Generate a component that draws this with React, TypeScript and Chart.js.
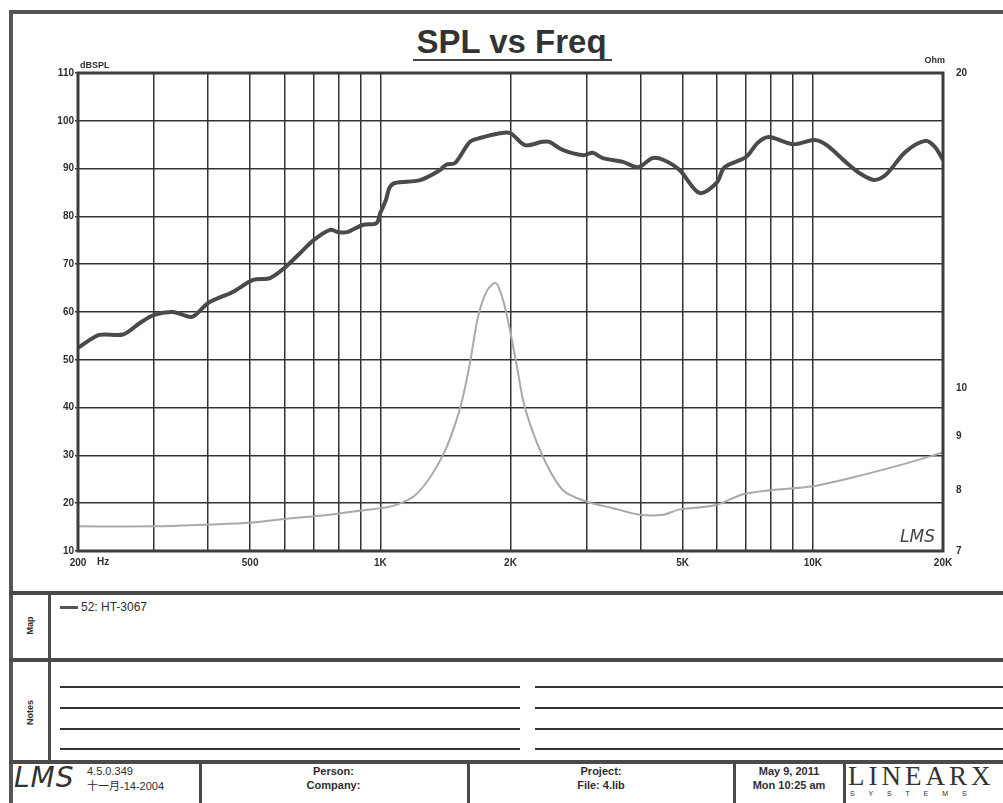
import React, { useEffect, useRef } from 'react';
import { Chart, registerables } from 'chart.js';

Chart.register(...registerables);

// SPL curve (Hz, dBSPL)
const splFreq = [200, 224, 254, 278, 300, 332, 367, 400, 456, 508, 556, 600, 652, 700, 765, 800, 838, 910, 980, 1000, 1030, 1050, 1081, 1236, 1374, 1420, 1490, 1611, 1700, 1890, 2000, 2160, 2370, 2460, 2640, 2943, 3100, 3270, 3640, 3950, 4260, 4520, 4920, 5470, 5990, 6250, 7000, 7460, 7920, 9010, 10100, 10770, 11970, 12800, 13850, 14750, 16380, 18200, 19170, 20000];
const splDb = [52.5, 55.2, 55.3, 57.7, 59.4, 60.0, 59.0, 61.9, 64.2, 66.7, 67.1, 69.2, 72.3, 75.0, 77.2, 76.7, 76.7, 78.2, 78.6, 80.7, 83.4, 86.0, 87.0, 87.6, 89.7, 90.8, 91.2, 95.6, 96.4, 97.4, 97.4, 94.9, 95.6, 95.6, 93.9, 92.8, 93.3, 92.2, 91.4, 90.3, 92.2, 91.8, 89.7, 84.9, 87.0, 90.3, 92.4, 95.4, 96.6, 95.1, 96.0, 94.9, 91.2, 89.1, 87.6, 88.7, 93.5, 95.8, 94.5, 91.8];

// Impedance curve (Hz, Ohm)
const impFreq = [200, 300, 400, 500, 600, 765, 900, 1070, 1216, 1396, 1529, 1612, 1682, 1765, 1850, 1923, 1995, 2070, 2161, 2377, 2645, 3004, 3452, 3985, 4504, 4931, 5939, 6896, 7962, 10010, 12850, 16520, 20000];
const impOhm = [7.39, 7.39, 7.42, 7.45, 7.51, 7.58, 7.65, 7.73, 7.94, 8.64, 9.58, 10.58, 11.7, 12.4, 12.61, 12.14, 11.36, 10.49, 9.58, 8.61, 8.0, 7.8, 7.69, 7.58, 7.58, 7.67, 7.74, 7.93, 8.0, 8.07, 8.26, 8.49, 8.69];

const xGridTicks = [200, 300, 400, 500, 600, 700, 800, 900, 1000, 2000, 3000, 4000, 5000, 6000, 7000, 8000, 9000, 10000, 20000];
const xTickLabels: Record<number, string> = { 200: '200', 500: '500', 1000: '1K', 2000: '2K', 5000: '5K', 10000: '10K', 20000: '20K' };
const dbTicks = [10, 20, 30, 40, 50, 60, 70, 80, 90, 100, 110];
const ohmTicks = [7, 8, 9, 10, 20];

const FONT = '"Liberation Sans", Arial, sans-serif';
const INK = '#2e2e2e';

const framePlugin = {
  id: 'frame',
  afterDatasetsDraw(chart: any) {
    const { ctx, chartArea } = chart;
    const { left, top, right, bottom } = chartArea;
    ctx.save();
    ctx.strokeStyle = '#3c3c3c';
    ctx.lineWidth = 3;
    ctx.strokeRect(left, top, right - left, bottom - top);
    ctx.fillStyle = INK;
    ctx.font = `bold 9px ${FONT}`;
    ctx.textBaseline = 'bottom';
    ctx.textAlign = 'left';
    ctx.fillText('dBSPL', left + 2, top - 3);
    ctx.textAlign = 'right';
    ctx.fillText('Ohm', right + 2, top - 8);
    ctx.font = `bold 10px ${FONT}`;
    ctx.textAlign = 'left';
    ctx.textBaseline = 'top';
    ctx.fillText('Hz', left + 19, bottom + 6);
    ctx.font = `italic 17px "DejaVu Sans", sans-serif`;
    ctx.textAlign = 'right';
    ctx.textBaseline = 'alphabetic';
    ctx.fillStyle = '#444';
    ctx.fillText('LMS', right - 8, bottom - 9);
    ctx.restore();
  },
};

function ChartBox() {
  const ref = useRef<HTMLCanvasElement | null>(null);
  useEffect(() => {
    if (!ref.current) return;
    const chart = new Chart(ref.current, {
      type: 'line',
      data: {
        datasets: [
          {
            label: '52: HT-3067',
            data: splFreq.map((f, i) => ({ x: f, y: splDb[i] })),
            yAxisID: 'y',
            borderColor: '#4a4a4a',
            borderWidth: 4,
            pointRadius: 0,
            tension: 0.3,
            fill: false,
          },
          {
            label: 'Impedance',
            data: impFreq.map((f, i) => ({ x: f, y: impOhm[i] })),
            yAxisID: 'y2',
            borderColor: '#a9a9a9',
            borderWidth: 2,
            pointRadius: 0,
            tension: 0.3,
            fill: false,
          },
        ],
      },
      options: {
        responsive: false,
        animation: false,
        layout: { padding: { top: 73, left: 0, right: 0, bottom: 0 } },
        plugins: { legend: { display: false }, title: { display: false }, tooltip: { enabled: false } },
        scales: {
          x: {
            type: 'logarithmic',
            position: 'bottom',
            min: 200,
            max: 20000,
            afterBuildTicks: (s: any) => {
              s.ticks = xGridTicks.map((v) => ({ value: v }));
            },
            afterFit: (s: any) => {
              s.height = 39;
            },
            ticks: {
              autoSkip: false,
              maxRotation: 0,
              minRotation: 0,
              padding: 6,
              color: INK,
              font: { family: FONT, size: 10, weight: 'bold' },
              callback: (v: any) => xTickLabels[Number(v)] ?? '',
            },
            grid: { color: '#333', lineWidth: 1.5, drawTicks: false },
            border: { display: false },
          },
          y: {
            type: 'linear',
            position: 'left',
            min: 10,
            max: 110,
            afterBuildTicks: (s: any) => {
              s.ticks = dbTicks.map((v) => ({ value: v }));
            },
            afterFit: (s: any) => {
              s.width = 78;
            },
            ticks: {
              padding: 1,
              color: INK,
              font: { family: FONT, size: 10, weight: 'bold' },
            },
            grid: { color: '#333', lineWidth: 1.5, tickLength: 3 },
            border: { display: false },
          },
          y2: {
            type: 'logarithmic',
            position: 'right',
            min: 7,
            max: 20,
            afterBuildTicks: (s: any) => {
              s.ticks = ohmTicks.map((v) => ({ value: v }));
            },
            afterFit: (s: any) => {
              s.width = 60;
            },
            ticks: {
              padding: 5,
              color: INK,
              font: { family: FONT, size: 10, weight: 'bold' },
              callback: (v: any) => String(v),
            },
            grid: { display: false },
            border: { display: false },
          },
        },
      } as any,
      plugins: [framePlugin],
    });
    return () => chart.destroy();
  }, []);
  return (
    <canvas
      ref={ref}
      width={1003}
      height={590}
      style={{ position: 'absolute', left: 0, top: 0, width: 1003, height: 590 }}
    />
  );
}

const line = (l: number, t: number, w: number, h: number, c = '#4a4a4a') => (
  <div style={{ position: 'absolute', left: l, top: t, width: w, height: h, background: c }} />
);

const txt = (content: string, l: number, t: number, w: number, size: number, bold = true, align: any = 'center', extra: any = {}) => (
  <div
    style={{
      position: 'absolute',
      left: l,
      top: t,
      width: w,
      fontSize: size,
      lineHeight: `${size + 2}px`,
      fontWeight: bold ? 'bold' : 'normal',
      textAlign: align,
      color: INK,
      whiteSpace: 'nowrap',
      ...extra,
    }}
  >
    {content}
  </div>
);

export default function App() {
  const noteYs = [686, 707, 728, 748];
  return (
    <div
      style={{
        position: 'absolute',
        left: 0,
        top: 0,
        width: 1003,
        height: 803,
        overflow: 'hidden',
        background: '#ffffff',
        fontFamily: FONT,
      }}
    >
      {/* outer frame */}
      <div style={{ position: 'absolute', left: 9, top: 10, width: 1100, height: 900, border: '4px solid #555' }} />
      {/* title */}
      <div
        style={{
          position: 'absolute',
          left: 300,
          width: 423,
          top: 25,
          fontSize: 33,
          lineHeight: '33px',
          fontWeight: 'bold',
          textAlign: 'center',
          color: '#333',
        }}
      >
        SPL vs Freq
      </div>
      {line(413, 59, 199, 2, '#444')}
      <ChartBox />
      {/* section dividers */}
      {line(9, 591, 1000, 4)}
      {line(9, 658, 1000, 4)}
      {line(9, 760, 1000, 4)}
      {line(48, 593, 3, 168)}
      {txt('Map', 0, 620, 60, 9, true, 'center', { transform: 'rotate(-90deg)', left: 0 })}
      {txt('Notes', 0, 707, 60, 9, true, 'center', { transform: 'rotate(-90deg)', left: 0 })}
      {/* legend */}
      {line(60, 606, 18, 3, '#555')}
      {txt('52: HT-3067', 81, 600, 120, 12, false, 'left')}
      {/* notes lines */}
      {noteYs.map((y) => (
        <React.Fragment key={y}>
          {line(60, y, 460, 1.5, '#333')}
          {line(535, y, 470, 1.5, '#333')}
        </React.Fragment>
      ))}
      {/* footer */}
      {line(199, 762, 3, 45)}
      {line(467, 762, 3, 45)}
      {line(733, 762, 3, 45)}
      {line(843, 762, 3, 45)}
      {txt('LMS', 14, 763, 70, 28, false, 'left', { fontStyle: 'italic', fontFamily: '"DejaVu Sans", sans-serif', color: '#333', letterSpacing: 1 })}
      {txt('4.5.0.349', 87, 765, 100, 11, false, 'left')}
      {txt('十一月-14-2004', 87, 780, 110, 11, false, 'left', { fontFamily: `${FONT}, "Noto Sans CJK SC"` })}
      {txt('Person:', 200, 765, 267, 11)}
      {txt('Company:', 200, 779, 267, 11)}
      {txt('Project:', 468, 765, 266, 11)}
      {txt('File: 4.lib', 468, 779, 266, 11)}
      {txt('May 9, 2011', 734, 765, 110, 11)}
      {txt('Mon 10:25 am', 734, 779, 110, 11)}
      {txt('LINEARX', 848, 762, 160, 27, false, 'left', { fontFamily: '"Liberation Serif", "DejaVu Serif", serif', letterSpacing: 4, lineHeight: '28px', color: '#333' })}
      {txt('S Y S T E M S', 850, 790, 160, 7, false, 'left', { letterSpacing: 6, lineHeight: '8px' })}
    </div>
  );
}
